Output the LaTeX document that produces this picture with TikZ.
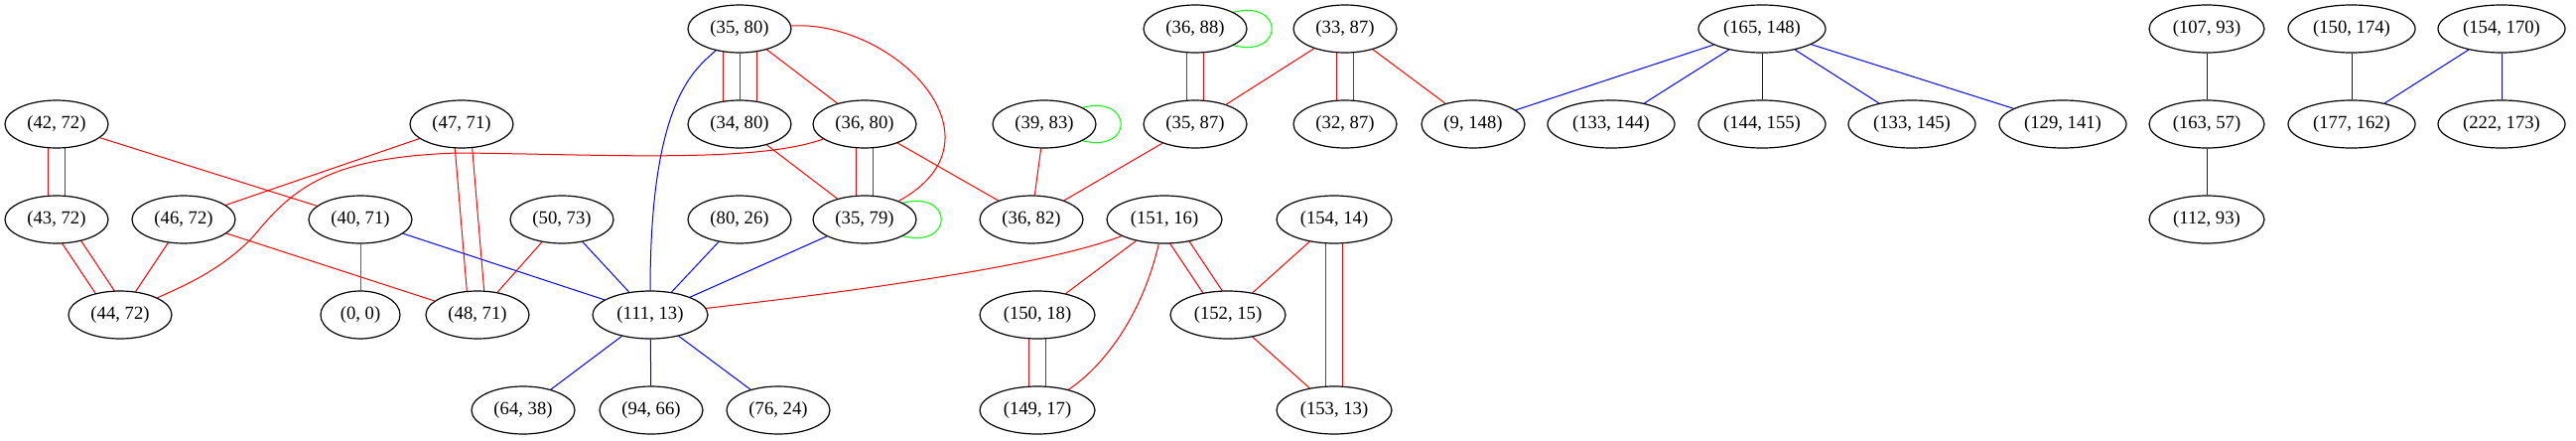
\documentclass[tikz,border=0pt]{standalone}
\usepackage{fontspec}
\setmainfont{Liberation Serif}
\usetikzlibrary{calc,shapes.geometric}
\pgfdeclarelayer{bg}
\pgfsetlayers{bg,main}
\definecolor{gvred}{RGB}{255,0,0}
\definecolor{gvblue}{RGB}{0,0,255}
\definecolor{gvgreen}{RGB}{0,255,0}
\definecolor{gvpurple}{RGB}{160,32,240}
\newcommand\offedge[4]{\draw[#1] ($(#2)!#4!90:(#3)$) -- ($(#3)!#4!-90:(#2)$);}
\newcommand\dbledge[3]{\offedge{#1}{#2}{#3}{6.5pt}\offedge{#1}{#2}{#3}{-6.5pt}}
\newcommand\tripedge[3]{\draw[#1] (#2) -- (#3);\offedge{#1}{#2}{#3}{12.75pt}\offedge{#1}{#2}{#3}{-12.75pt}}
\newcommand\selfloop[1]{\draw[gl] ([shift={(36,-16)}]#1.center) .. controls ([shift={(91,-32)}]#1.center) and ([shift={(91,32)}]#1.center) .. ([shift={(36,16)}]#1.center);}
\begin{document}
\begin{tikzpicture}[x=0.75pt,y=-0.75pt,
  v/.style={ellipse,draw=black,line width=0.9pt,fill=white,inner sep=0pt,
    minimum height=36pt,minimum width=#1,font=\fontsize{14}{16}\selectfont},
  v/.default=78pt,
  re/.style={draw=gvred,line width=0.75pt},
  be/.style={draw=gvblue,line width=0.75pt},
  pe/.style={draw=gvpurple,line width=0.75pt},
  gl/.style={draw=gvgreen,line width=0.75pt}]
\useasboundingbox (0,0) rectangle (2595,443);
% row 1
\node[v] (n3580) at (745,29) {(35, 80)};
\node[v] (n3688) at (1204,29) {(36, 88)};
\node[v] (n3387) at (1355,29) {(33, 87)};
\node[v=96pt] (n165148) at (1775,29) {(165, 148)};
\node[v=87pt] (n10793) at (2223,29) {(107, 93)};
\node[v=96pt] (n150174) at (2369,29) {(150, 174)};
\node[v=96pt] (n154170) at (2520,29) {(154, 170)};
% row 2
\node[v] (n4272) at (57,125) {(42, 72)};
\node[v] (n4771) at (465,125) {(47, 71)};
\node[v] (n3480) at (745,125) {(34, 80)};
\node[v] (n3680) at (871,125) {(36, 80)};
\node[v] (n3983) at (1052,125) {(39, 83)};
\node[v] (n3587) at (1204,125) {(35, 87)};
\node[v] (n3287) at (1355,125) {(32, 87)};
\node[v] (n9148) at (1484,125) {(9, 148)};
\node[v=96pt] (n133144) at (1623,125) {(133, 144)};
\node[v=96pt] (n144155) at (1775,125) {(144, 155)};
\node[v=96pt] (n133145) at (1926,125) {(133, 145)};
\node[v=96pt] (n129141) at (2078,125) {(129, 141)};
\node[v=87pt] (n16357) at (2223,125) {(163, 57)};
\node[v=96pt] (n177162) at (2369,125) {(177, 162)};
\node[v=96pt] (n222173) at (2520,125) {(222, 173)};
% row 3
\node[v] (n4372) at (57,221) {(43, 72)};
\node[v] (n4672) at (185,221) {(46, 72)};
\node[v] (n4071) at (363,221) {(40, 71)};
\node[v] (n5073) at (566,221) {(50, 73)};
\node[v] (n8026) at (745,221) {(80, 26)};
\node[v] (n3579) at (871,221) {(35, 79)};
\node[v] (n3682) at (1039,221) {(36, 82)};
\node[v=87pt] (n15116) at (1173,221) {(151, 16)};
\node[v=87pt] (n15414) at (1344,221) {(154, 14)};
\node[v=87pt] (n11293) at (2223,221) {(112, 93)};
% row 4
\node[v] (n4472) at (121,317) {(44, 72)};
\node[v=60pt] (n00) at (363,317) {(0, 0)};
\node[v] (n4871) at (481,317) {(48, 71)};
\node[v=87pt] (n11113) at (655,317) {(111, 13)};
\node[v=87pt] (n15018) at (1045,317) {(150, 18)};
\node[v=87pt] (n15215) at (1237,317) {(152, 15)};
% row 5
\node[v] (n6438) at (527,413) {(64, 38)};
\node[v] (n9466) at (656,413) {(94, 66)};
\node[v] (n7624) at (784,413) {(76, 24)};
\node[v=87pt] (n14917) at (1045,413) {(149, 17)};
\node[v=87pt] (n15313) at (1344,413) {(153, 13)};

\begin{pgfonlayer}{bg}
% red edges
\dbledge{re}{n4272}{n4372}
\draw[re] (n4272) -- (n4071);
\dbledge{re}{n4372}{n4472}
\draw[re] (n4672) -- (n4472);
\draw[re] (n4672) -- (n4771);
\draw[re] (n4672) -- (n4871);
\dbledge{re}{n4771}{n4871}
\draw[re] (n5073) -- (n4871);
\draw[re] (n3680) .. controls (760,165) and (600,155) .. (461,154)
  .. controls (340,158) and (300,185) .. (262,230)
  .. controls (230,270) and (180,290) .. (n4472);
\tripedge{re}{n3580}{n3480}
\draw[re] (n3580) -- (n3680);
\draw[re] (n3580) .. controls (900,20) and (1020,140) .. (n3579);
\draw[re] (n3480) -- (n3579);
\dbledge{re}{n3680}{n3579}
\draw[re] (n3680) -- (n3682);
\draw[re] (n3983) -- (n3682);
\draw[re] (n3587) -- (n3682);
\dbledge{re}{n3688}{n3587}
\draw[re] (n3387) -- (n3587);
\dbledge{re}{n3387}{n3287}
\draw[re] (n3387) -- (n9148);
\draw[re] (n15116) .. controls (1041,272) and (800,300) .. (n11113);
\draw[re] (n15116) -- (n15018);
\draw[re] (n15116) .. controls (1150,320) and (1110,370) .. (n14917);
\dbledge{re}{n15116}{n15215}
\draw[re] (n15414) -- (n15215);
\dbledge{re}{n15414}{n15313}
\draw[re] (n15215) -- (n15313);
\dbledge{re}{n15018}{n14917}
% blue edges
\draw[be] (n3580) .. controls (700,70) and (655,100) .. (n11113);
\draw[be] (n4071) -- (n11113);
\draw[be] (n5073) -- (n11113);
\draw[be] (n8026) -- (n11113);
\draw[be] (n3579) -- (n11113);
\draw[be] (n11113) -- (n6438);
\draw[be] (n11113) -- (n9466);
\draw[be] (n11113) -- (n7624);
\draw[be] (n165148) -- (n9148);
\draw[be] (n165148) -- (n133144);
\draw[be] (n165148) -- (n144155);
\draw[be] (n165148) -- (n133145);
\draw[be] (n165148) -- (n129141);
\draw[be] (n10793) -- (n16357);
\draw[be] (n16357) -- (n11293);
\draw[be] (n150174) -- (n177162);
\draw[be] (n154170) -- (n177162);
\draw[be] (n154170) -- (n222173);
% purple edge
\draw[pe] (n4071) -- (n00);
% green self-loops
\selfloop{n3688}
\selfloop{n3983}
\selfloop{n3579}
\end{pgfonlayer}
\end{tikzpicture}
\end{document}
